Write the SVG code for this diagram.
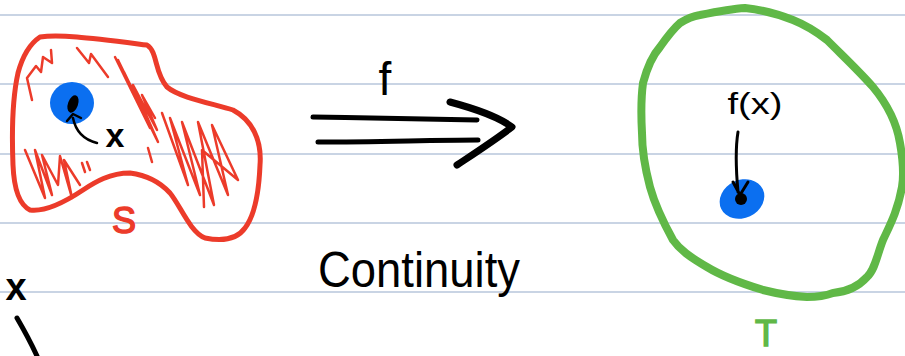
<svg xmlns="http://www.w3.org/2000/svg" width="905" height="356" viewBox="0 0 905 356">
<style>
.rule{stroke:#c9d4e4;stroke-width:2}
.red{fill:none;stroke:#ec3b2a;stroke-linecap:round;stroke-linejoin:round}
.ink{fill:none;stroke:#000;stroke-linecap:round;stroke-linejoin:round}
.hand{font-family:"Liberation Sans","DejaVu Sans",sans-serif}
</style>
<rect width="905" height="356" fill="#fff"/>
<g id="ruling">
<line class="rule" x1="0" y1="15" x2="905" y2="15"/>
<line class="rule" x1="0" y1="84" x2="905" y2="84"/>
<line class="rule" x1="0" y1="154" x2="905" y2="154"/>
<line class="rule" x1="0" y1="223" x2="905" y2="223"/>
<line class="rule" x1="0" y1="292" x2="905" y2="292"/>
</g>
<g id="setS">
<path class="red" stroke-width="5" d="M40,37 C60,34 90,38 147,45 C158,52 154,72 167,87 C180,98 215,104 233,110 C252,120 262,140 260,165 C259,190 255,215 245,228 C238,238 225,242 205,238 C190,232 180,205 170,193 C160,182 145,175 130,173 C110,173 95,182 83,190 C65,202 45,212 30,210 C20,205 14,190 13,165 C12,140 12,100 18,73 C22,58 28,45 40,37 Z"/>
<g class="red" stroke-width="2.5">
<path d="M32,100 L27,78 L36,66 L41,72 L43,57 L52,63 L51,50"/>
<path d="M77,48 L89,63 L91,54 L108,77"/>
<path d="M115,57 L150,128 L118,60 L156,138 L124,72 L158,142 L133,85 L157,130 L142,95 L155,118"/>
<path d="M162,113 L188,185 L170,118 L200,195 L182,122 L214,205 L198,122 L228,195 L212,125 L238,180 L202,150 L204,207"/>
<path d="M25,150 L45,198 L35,150 L52,195 L42,155 L58,185 L60,156 L72,198 L64,160 L80,185"/>
<path d="M82,163 L85,172 M87,162 L90,170"/>
<path d="M148,148 L152,162"/>
</g>
<ellipse cx="72" cy="103" rx="22" ry="21" fill="#0b6ff0"/>
<ellipse cx="73" cy="104" rx="5" ry="9" fill="#000" transform="rotate(20 73 104)"/>
<text class="hand" x="115" y="147" font-size="34" font-weight="bold" text-anchor="middle">x</text>
<text class="hand" x="124" y="233" font-size="36" fill="#ec3b2a" stroke="#ec3b2a" stroke-width="1.5" text-anchor="middle">S</text>
</g>
<g id="setT">
<path fill="none" stroke="#60b847" stroke-width="8" stroke-linejoin="round" d="M700,15 C715,12 730,9 745,8 C765,10 780,15 793,20 C808,26 818,33 827,40 C845,58 860,72 873,87 C888,105 897,125 900,143 C903,160 904,175 902,187 C898,210 890,225 883,240 C877,255 875,270 867,277 C858,287 845,292 833,293 C825,296 815,297 807,297 C790,296 775,293 763,290 C740,283 720,275 707,267 C690,257 680,250 673,240 C662,220 655,205 650,187 C645,168 642,150 642,133 C641,115 641,98 643,83 C647,68 652,56 660,47 C667,37 672,30 680,23 C688,18 694,16 700,15 Z"/>
<ellipse cx="742" cy="199" rx="23" ry="19" fill="#0b6ff0" transform="rotate(-25 742 199)"/>
<ellipse cx="741" cy="199" rx="6" ry="6" fill="#000"/>
<text class="hand" x="755" y="114" font-size="30" text-anchor="middle" textLength="55" lengthAdjust="spacingAndGlyphs">f(x)</text>
<text class="hand" x="766" y="346" font-size="36" fill="#60b847" stroke="#60b847" stroke-width="1.5" text-anchor="middle">T</text>
</g>
<g id="connectors">
<g id="map-f">
<path class="ink" stroke-width="5" d="M313,117 C370,118 430,119 477,120"/>
<path class="ink" stroke-width="5" d="M318,142 C380,142 430,140 478,140"/>
<path class="ink" stroke-width="7" d="M450,102 C480,110 500,118 512,127 C495,140 475,153 457,165"/>
</g>
<path class="ink" stroke-width="2.5" d="M97,143 C85,140 76,133 73,118 M67,121 L73,114 L81,118"/>
<path class="ink" stroke-width="3" d="M738,132 C735,150 736,170 738,192 M733,182 L740,195 L748,182"/>
</g>
<g id="labels">
<text class="hand" x="385" y="95" font-size="46" text-anchor="middle">f</text>
<text class="hand" x="318" y="287" font-size="50" textLength="202" lengthAdjust="spacingAndGlyphs">Continuity</text>
<text class="hand" x="16" y="300" font-size="38" font-weight="bold" text-anchor="middle">x</text>
<path class="ink" stroke-width="5" d="M17,318 C24,330 31,343 37,356"/>
</g>
</svg>
